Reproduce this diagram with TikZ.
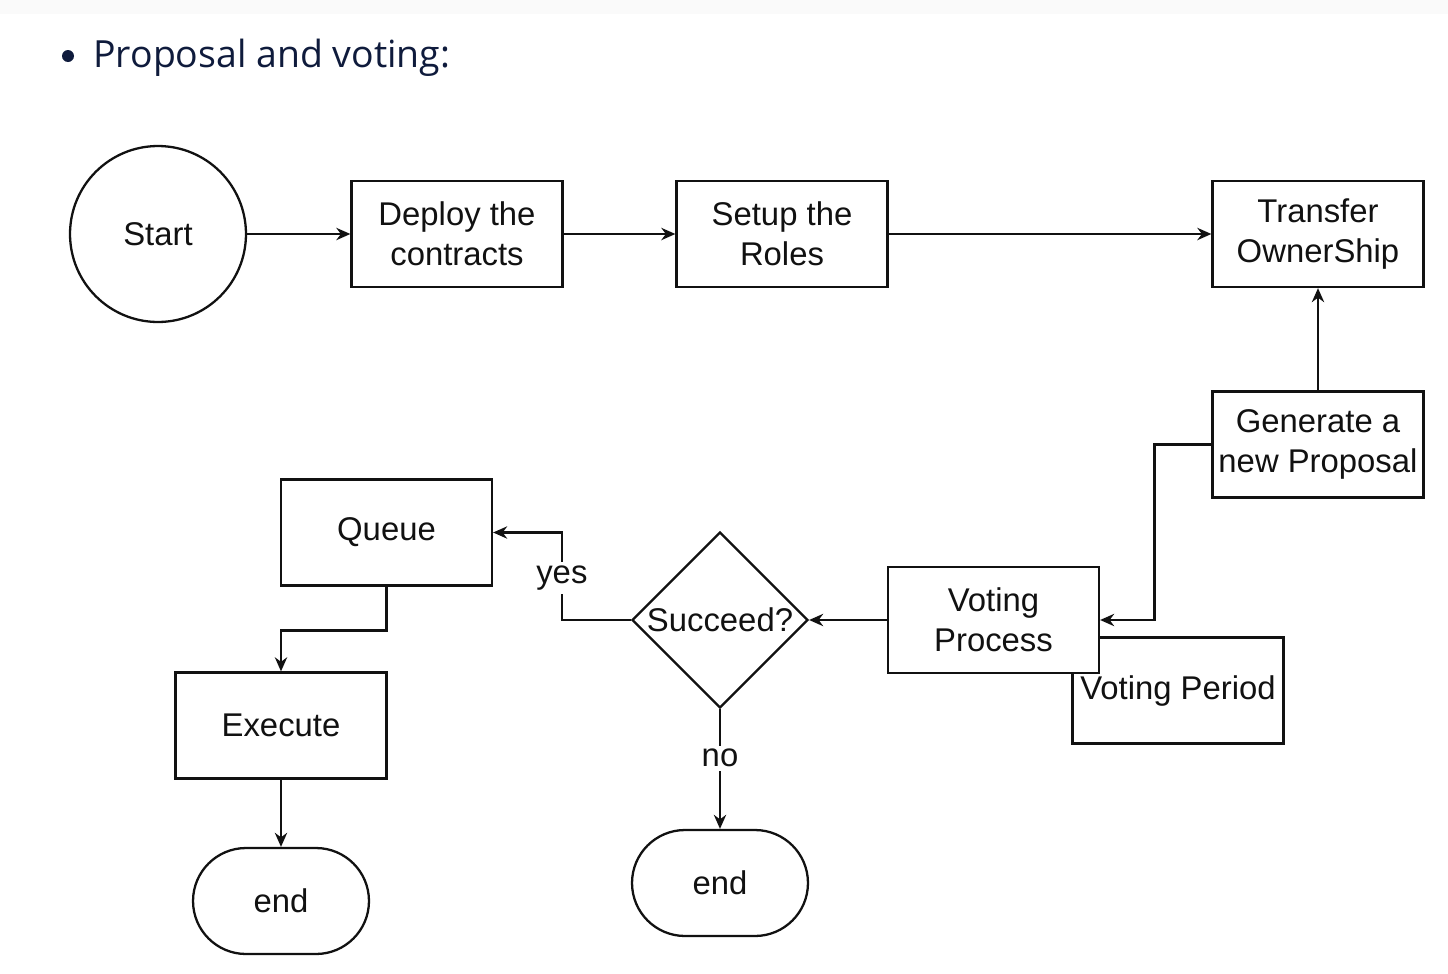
\documentclass[tikz,border=0pt]{standalone}
\usepackage{fontspec}
\setmainfont{Liberation Sans}
\newfontfamily\headfont{Open Sans}
\usetikzlibrary{shapes.geometric,shapes.misc,arrows.meta}
\definecolor{navy}{HTML}{0F1B3C}
\definecolor{ink}{HTML}{111111}
\tikzset{
  px/.style={x=0.02cm,y=-0.02cm},
  box/.style={draw=ink,line width=1.3pt,fill=white,minimum width=4.22cm,minimum height=2.12cm,inner sep=0pt,align=center,text=ink,font=\diafont},
  startc/.style={draw=ink,line width=1.3pt,circle,minimum size=3.52cm,inner sep=0pt,text=ink,font=\diafont},
  dec/.style={draw=ink,line width=1.3pt,diamond,minimum width=3.52cm,minimum height=3.52cm,inner sep=0pt,text=ink,font=\diafont},
  term/.style={draw=ink,line width=1.3pt,rounded rectangle,minimum width=3.52cm,minimum height=2.12cm,inner sep=0pt,text=ink,font=\diafont},
  conn/.style={draw=ink,line width=1.3pt,-{Stealth[length=8pt,width=7pt]}},
  lbl/.style={fill=white,inner sep=2pt,text=ink,font=\diafont},
}
\newcommand{\diafont}{\fontsize{18.7}{22.7}\selectfont}
\begin{document}
\begin{tikzpicture}[px]
\useasboundingbox (0,0) rectangle (1448,974);
\fill[gray!4] (0,0) rectangle (1448,14);
% header
\fill[navy] (68,56) circle (6);
\node[anchor=base west,inner sep=0pt,text=navy,font=\headfont\fontsize{21.3}{25}\selectfont] (head) at (93,67) {Proposal and voting:};
% nodes
\node[startc] (start) at (158,234) {Start};
\node[box] (deploy) at (457,234) {Deploy the\\contracts};
\node[box] (setup) at (782,234) {Setup the\\Roles};
\node[box] (transfer) at (1318,234) {Transfer\\OwnerShip};
\node[box] (gen) at (1318,444.5) {Generate a\\new Proposal};
\node[box] (period) at (1178,690.5) {Voting Period};
\node[box] (vote) at (993.5,620) {Voting\\Process};
\node[dec] (succ) at (720,620) {\makebox[0pt]{Succeed?}};
\node[box] (queue) at (386.5,532.5) {Queue};
\node[box] (exec) at (281,725.5) {Execute};
\node[term] (end1) at (281,901) {end};
\node[term] (end2) at (720,883) {end};
% connectors
\draw[conn] (start.east) -- (deploy.west);
\draw[conn] (deploy.east) -- (setup.west);
\draw[conn] (setup.east) -- (transfer.west);
\draw[conn] (gen.north) -- (transfer.south);
\draw[conn] (gen.west) -- ++(-57,0) |- (vote.east);
\draw[conn] (vote.west) -- (succ.east);
\draw[conn] (succ.west) -- ++(-69,0) |- node[lbl,pos=0.24] {yes} (queue.east);
\draw[conn] (queue.south) -- ++(0,44) -| (exec.north);
\draw[conn] (exec.south) -- (end1.north);
\draw[conn] (succ.south) -- node[lbl,pos=0.41] {no} (end2.north);
\end{tikzpicture}
\end{document}
